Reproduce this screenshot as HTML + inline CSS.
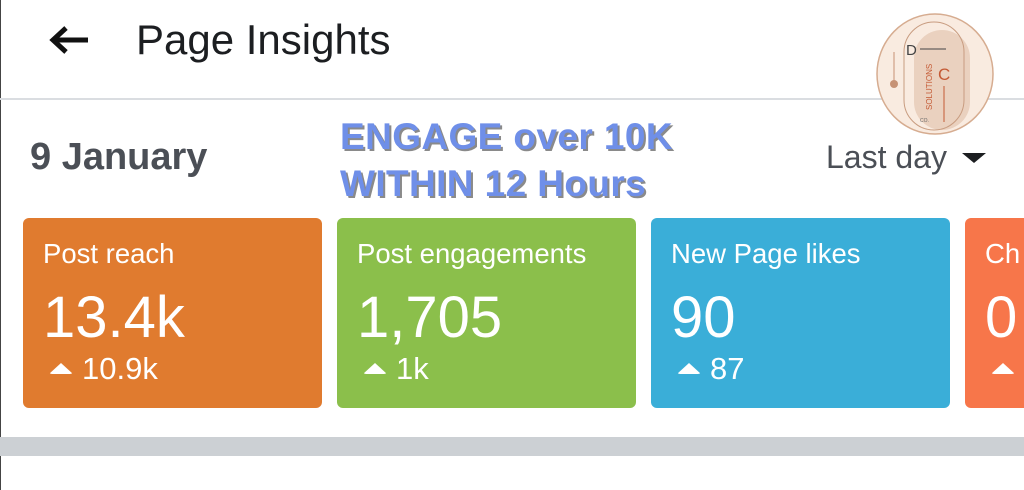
<!DOCTYPE html><html><head><style>
body{margin:0;width:1024px;height:490px;background:#fff;position:relative;overflow:hidden;font-family:"Liberation Sans",sans-serif}
.a{position:absolute}
.card{position:absolute;top:218px;height:190px;border-radius:6px;color:#fff}
.card .t{position:absolute;left:20px;top:20px;font-size:27.5px}
.card .v{position:absolute;left:20px;top:66px;font-size:58px}
.card .d{position:absolute;left:26px;top:133px;font-size:31px}
.tri{display:inline-block;width:0;height:0;border-left:12px solid transparent;border-right:12px solid transparent;border-bottom:11px solid #fff;margin-right:9px;vertical-align:5px;border-radius:3px}
</style></head><body>
<div class="a" style="left:0;top:0;width:1px;height:490px;background:#444"></div>
<svg class="a" style="left:48px;top:24px" width="42" height="32"><path d="M40 16H6M18 4L5 16L18 28" stroke="#111" stroke-width="5" fill="none"/></svg>
<div class="a" style="left:136px;top:16px;font-size:42px;color:#1c1e21">Page Insights</div>
<div class="a" style="left:0;top:98px;width:1024px;height:2px;background:#dadde1"></div>
<svg class="a" style="left:874px;top:12px" width="122" height="125"><ellipse cx="61" cy="62" rx="58" ry="60" fill="#f9ebe0" stroke="#d6ac90" stroke-width="1.5"/><rect x="40" y="18" width="56" height="100" rx="28" fill="#ead1bf"/><rect x="30" y="10" width="60" height="108" rx="30" fill="none" stroke="#c89c80"/><circle cx="20" cy="72" r="4" fill="#c69275"/><path d="M20 72V40" stroke="#c69275"/><text x="32" y="43" font-size="15" fill="#444" font-family="Liberation Sans">D</text><path d="M46 37H72" stroke="#444"/><text x="64" y="68" font-size="17" fill="#c45a35" font-family="Liberation Sans">C</text><path d="M70 74V110" stroke="#c45a35"/><text x="58" y="98" font-size="8" fill="#c45a35" transform="rotate(-90 58 98)" font-family="Liberation Sans">SOLUTIONS</text><text x="46" y="110" font-size="5" fill="#666">CO.</text></svg>
<div class="a" style="left:30px;top:136px;font-size:38px;color:#4b4f56;font-weight:bold;-webkit-text-stroke:0;font-weight:600">9 January</div>
<div class="a" style="left:340px;top:113px;font-size:37px;font-weight:bold;color:#6f8fe8;line-height:47px;text-shadow:2px 2px 0 #8a8a8a;letter-spacing:0.4px">ENGAGE over 10K<br>WITHIN 12 Hours</div>
<div class="a" style="left:826px;top:139px;font-size:32px;color:#4b4f56">Last day</div>
<div class="a" style="left:962px;top:153px;width:0;height:0;border-left:12px solid transparent;border-right:12px solid transparent;border-top:10px solid #1c1e21"></div>
<div class="card" style="left:23px;width:299px;background:#e07b2f"><div class="t">Post reach</div><div class="v">13.4k</div><div class="d"><span class="tri"></span>10.9k</div></div>
<div class="card" style="left:337px;width:299px;background:#8bbf4b"><div class="t">Post engagements</div><div class="v">1,705</div><div class="d"><span class="tri"></span>1k</div></div>
<div class="card" style="left:651px;width:299px;background:#3aaed8"><div class="t">New Page likes</div><div class="v">90</div><div class="d"><span class="tri"></span>87</div></div>
<div class="card" style="left:965px;width:80px;background:#f7764a"><div class="t">Ch</div><div class="v">0</div><div class="d"><span class="tri"></span></div></div>
<div class="a" style="left:0;top:437px;width:1024px;height:19px;background:#ccd0d4"></div>
</body></html>
